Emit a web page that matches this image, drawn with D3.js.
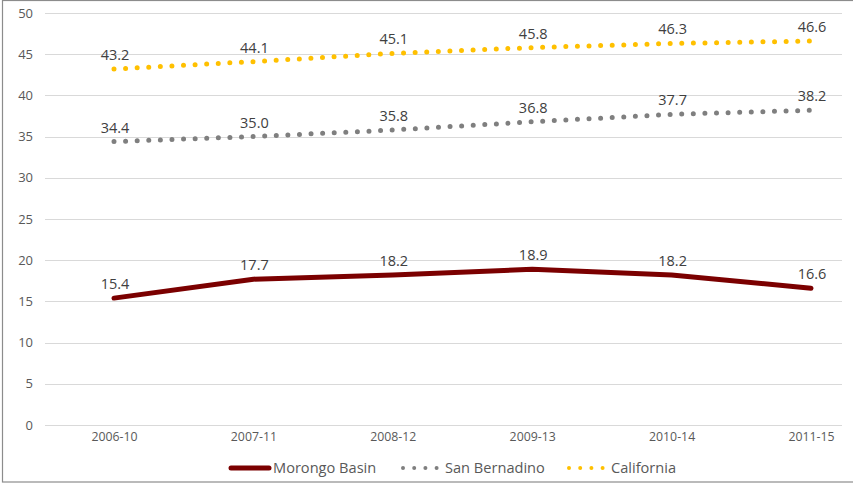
<!DOCTYPE html>
<html><head><meta charset="utf-8">
<script src="https://cdn.jsdelivr.net/npm/d3@7"></script>
<style>body{margin:0;background:#fff}svg{display:block}text{font-family:"Open Sans",sans-serif}</style>
</head><body><svg id="c" width="853" height="486"></svg>
<script>
const categories = ["2006-10","2007-11","2008-12","2009-13","2010-14","2011-15"];
const morongo = [15.4,17.7,18.2,18.9,18.2,16.6];
const sanBernardino = [34.4,35.0,35.8,36.8,37.7,38.2];
const california = [43.2,44.1,45.1,45.8,46.3,46.6];
const yTicks = [0,5,10,15,20,25,30,35,40,45,50];
const seriesNames = ["Morongo Basin","San Bernadino","California"];
const FONT = "'Open Sans',sans-serif";

const svg = d3.select("#c");
svg.append("rect").attr("x",2.5).attr("y",0.5).attr("width",860).attr("height",481.5)
  .attr("fill","#fff").attr("stroke","#8c8c8c").attr("stroke-width",1.2);

const y = d3.scaleLinear().domain([0,50]).range([425,13]);
const x = d3.scalePoint().domain(categories).range([114,811]);
const gx0 = 45, gx1 = 842;

const grid = svg.append("g");
yTicks.forEach(t=>{
  grid.append("line").attr("x1",gx0).attr("x2",gx1).attr("y1",Math.round(y(t))+0.5).attr("y2",Math.round(y(t))+0.5)
    .attr("stroke","#d9d9d9").attr("stroke-width",1);
});
const yAxis = d3.axisLeft(y).tickValues(yTicks).tickSize(0).tickPadding(0);
const ya = svg.append("g").attr("transform","translate(33,0)").call(yAxis);
ya.select(".domain").remove();
ya.selectAll("text").attr("fill","#595959").style("font-size","13px").style("font-family",FONT);

const xAxis = d3.axisBottom(x).tickSize(0).tickPadding(0);
const xa = svg.append("g").attr("transform","translate(0,432)").call(xAxis);
xa.select(".domain").remove();
xa.selectAll("text").attr("fill","#595959").style("font-size","12.3px").style("font-family",FONT);

function draw(vals, color, dotted){
  const line = d3.line().x((d,i)=>x(categories[i])).y(d=>y(d)).curve(d3.curveLinear);
  const p = svg.append("path").attr("d",line(vals)).attr("fill","none").attr("stroke",color)
    .attr("stroke-width",5).attr("stroke-linecap","round").attr("stroke-linejoin","round");
  if(dotted) p.attr("stroke-dasharray","0 11.6");
  svg.append("g").selectAll("text").data(vals).join("text")
    .attr("x",(d,i)=>x(categories[i])+1).attr("y",d=>y(d)-9)
    .attr("text-anchor","middle").attr("fill","#404040").style("font-size","14.5px").style("font-family",FONT)
    .text(d=>d.toFixed(1));
}
draw(california,"#FFC000",true);
draw(sanBernardino,"#7f7f7f",true);
draw(morongo,"#7B0000",false);

// legend
const lg = svg.append("g");
const colors = ["#7B0000","#7f7f7f","#FFC000"];
const lx = [231,403,569];
seriesNames.forEach((n,i)=>{
  const l = lg.append("line").attr("x1",lx[i]).attr("x2",lx[i]+38).attr("y1",468).attr("y2",468)
    .attr("stroke",colors[i]).attr("stroke-width",i==0?5:4).attr("stroke-linecap","round");
  if(i>0) l.attr("stroke-dasharray","0 11.2");
  lg.append("text").attr("x",lx[i]+42).attr("y",473).attr("fill","#595959").style("font-size","14.6px").style("font-family",FONT).text(n);
});
</script></body></html>
